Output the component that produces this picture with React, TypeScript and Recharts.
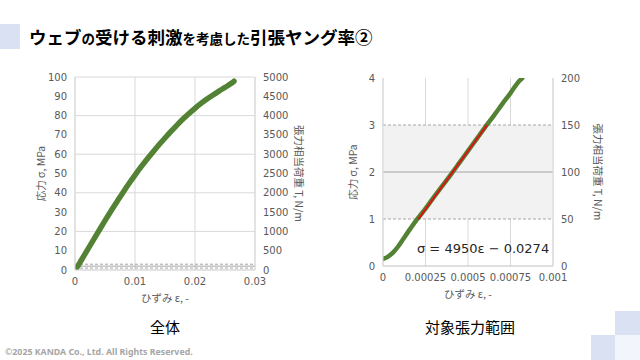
import React from 'react';
import {
  ComposedChart, Line, XAxis, YAxis, CartesianGrid, ReferenceLine, ReferenceArea, Label,
} from 'recharts';

// ---- data ----
const strainAll = [0, 0.0005, 0.001, 0.002, 0.003, 0.004, 0.005, 0.006, 0.007, 0.008, 0.009, 0.010, 0.011, 0.012, 0.013, 0.014, 0.015, 0.016, 0.017, 0.018, 0.019, 0.020, 0.021, 0.022, 0.023, 0.024, 0.025, 0.026, 0.0265];
const stressAll = [0, 2.2, 4.8, 10.0, 15.2, 20.4, 25.6, 30.6, 35.4, 40.2, 44.8, 49.2, 53.4, 57.4, 61.2, 64.9, 68.4, 71.8, 75.1, 78.2, 81.1, 83.8, 86.3, 88.6, 90.7, 92.7, 94.6, 96.6, 97.8];

const strainZoom = [0, 0.00003, 0.00006, 0.00009, 0.00012, 0.00016, 0.0002, 0.00025, 0.0003, 0.00035, 0.0004, 0.00045, 0.0005, 0.00055, 0.0006, 0.00065, 0.0007, 0.00075, 0.0008, 0.00082];
const stressZoom = [0.15, 0.2, 0.29, 0.42, 0.58, 0.79, 0.99, 1.22, 1.47, 1.71, 1.95, 2.2, 2.45, 2.70, 2.95, 3.19, 3.44, 3.68, 3.93, 4.0];

const strainFit = [0.000208, 0.000612];
const stressFit = [1.0, 3.0];

const xTicksAll = [0, 0.01, 0.02, 0.03];
const yTicksAll = [0, 10, 20, 30, 40, 50, 60, 70, 80, 90, 100];
const y2TicksAll = [0, 500, 1000, 1500, 2000, 2500, 3000, 3500, 4000, 4500, 5000];

const xTicksZoom = [0, 0.00025, 0.0005, 0.00075, 0.001];
const yTicksZoom = [0, 1, 2, 3, 4];
const y2TicksZoom = [0, 50, 100, 150, 200];

const bandLow = 1;
const bandMid = 2;
const bandHigh = 3;

const equation = 'σ = 4950ε − 0.0274';

const toRows = (xs: number[], ys: number[]) => xs.map((e, i) => ({ e, s: ys[i] }));
const allRows = toRows(strainAll, stressAll);
const zoomRows = toRows(strainZoom, stressZoom);
const fitRows = toRows(strainFit, stressFit);

const GREEN = '#548235';
const RED = '#e01010';
const TICK = { fontSize: 10, fill: '#595959', fontFamily: 'DejaVu Sans' };
const LABEL_FONT = 'Noto Sans CJK JP';
const LABEL_STYLE = { fontSize: 10.5, fill: '#595959', fontFamily: LABEL_FONT };

const fmt = (v: number) => String(v);

export default function App() {
  return (
    <div style={{ position: 'absolute', left: 0, top: 0, width: 640, height: 360, background: '#fff', overflow: 'hidden', fontFamily: LABEL_FONT }}>
      {/* title */}
      <div style={{ position: 'absolute', left: 0, top: 24, width: 20, height: 25, background: '#d9e1f2' }} />
      <div style={{ position: 'absolute', left: 29, top: 25, fontWeight: 700, color: '#000', whiteSpace: 'nowrap', lineHeight: '24px' }}>
        <span style={{ fontSize: 17.5 }}>ウェブ</span>
        <span style={{ fontSize: 13.5 }}>の</span>
        <span style={{ fontSize: 17.5 }}>受ける刺激</span>
        <span style={{ fontSize: 13.5 }}>を考慮した</span>
        <span style={{ fontSize: 17.5 }}>引張ヤング率②</span>
      </div>

      {/* left chart */}
      <div style={{ position: 'absolute', left: 0, top: 60 }}>
        <ComposedChart width={320} height={250} margin={{ top: 17, right: 15, left: 25, bottom: 6 }}>
          <CartesianGrid yAxisId="left" stroke="#d9d9d9" strokeWidth={1} />
          <XAxis dataKey="e" type="number" domain={[0, 0.03]} ticks={xTicksAll} tickFormatter={fmt}
            tick={TICK} tickLine={false} axisLine={{ stroke: '#d9d9d9' }} height={34} allowDataOverflow>
            <Label value="ひずみ ε, -" position="insideBottom" offset={2} style={LABEL_STYLE} />
          </XAxis>
          <YAxis yAxisId="left" type="number" domain={[0, 100]} ticks={yTicksAll} tick={TICK}
            tickLine={false} axisLine={{ stroke: '#d9d9d9' }} width={50} allowDataOverflow>
            <Label value="応力 σ, MPa" angle={-90} position="center" dx={-9} style={LABEL_STYLE} />
          </YAxis>
          <YAxis yAxisId="right" orientation="right" type="number" domain={[0, 5000]} ticks={y2TicksAll} tick={TICK}
            tickLine={false} axisLine={{ stroke: '#d9d9d9' }} width={50} allowDataOverflow>
            <Label value="張力相当荷重 T, N/m" angle={90} position="center" dx={19} style={LABEL_STYLE} />
          </YAxis>
          <ReferenceLine yAxisId="left" y={bandLow} stroke="#a6a6a6" strokeDasharray="3 2" />
          <ReferenceLine yAxisId="left" y={bandMid} stroke="#a6a6a6" />
          <ReferenceLine yAxisId="left" y={bandHigh} stroke="#a6a6a6" strokeDasharray="3 2" />
          <Line yAxisId="left" data={allRows} dataKey="s" type="monotone" stroke={GREEN} strokeWidth={5.5} dot={false}
            strokeLinecap="round" strokeLinejoin="round" isAnimationActive={false} />
        </ComposedChart>
      </div>

      {/* right chart */}
      <div style={{ position: 'absolute', left: 320, top: 60 }}>
        <ComposedChart width={320} height={250} margin={{ top: 18, right: 27, left: 13, bottom: 10 }}>
          <ReferenceArea yAxisId="left" y1={bandLow} y2={bandHigh} fill="#f2f2f2" fillOpacity={1} stroke="none" />
          <CartesianGrid yAxisId="left" stroke="#d9d9d9" horizontal={false} />
          <XAxis dataKey="e" type="number" domain={[0, 0.001]} ticks={xTicksZoom} tickFormatter={fmt}
            tick={TICK} tickLine={false} axisLine={{ stroke: '#bfbfbf' }} height={34} interval={0} allowDataOverflow>
            <Label value="ひずみ ε, -" position="insideBottom" offset={2} style={LABEL_STYLE} />
          </XAxis>
          <YAxis yAxisId="left" type="number" domain={[0, 4]} ticks={yTicksZoom} tick={TICK}
            tickLine={false} axisLine={{ stroke: '#d9d9d9' }} width={50} allowDataOverflow>
            <Label value="応力 σ, MPa" angle={-90} position="center" dx={-5} style={LABEL_STYLE} />
          </YAxis>
          <YAxis yAxisId="right" orientation="right" type="number" domain={[0, 200]} ticks={y2TicksZoom} tick={TICK}
            tickLine={false} axisLine={{ stroke: '#d9d9d9' }} width={60} allowDataOverflow>
            <Label value="張力相当荷重 T, N/m" angle={90} position="center" dx={15} style={LABEL_STYLE} />
          </YAxis>
          <ReferenceLine yAxisId="left" y={bandLow} stroke="#a6a6a6" strokeDasharray="3 2" />
          <ReferenceLine yAxisId="left" y={bandMid} stroke="#a6a6a6" />
          <ReferenceLine yAxisId="left" y={bandHigh} stroke="#a6a6a6" strokeDasharray="3 2" />
          <Line yAxisId="left" data={zoomRows} dataKey="s" type="monotone" stroke={GREEN} strokeWidth={4.5} dot={false}
            strokeLinecap="round" strokeLinejoin="round" isAnimationActive={false} />
          <Line yAxisId="left" data={fitRows} dataKey="s" stroke={RED} strokeWidth={2} dot={false}
            isAnimationActive={false} />
        </ComposedChart>
      </div>

      {/* equation */}
      <div style={{ position: 'absolute', left: 417, top: 240, fontSize: 13, fontFamily: 'DejaVu Sans', color: '#262626', whiteSpace: 'nowrap', lineHeight: '18px' }}>
        {equation}
      </div>

      {/* subtitles */}
      <div style={{ position: 'absolute', left: 115, width: 100, top: 317, textAlign: 'center', fontSize: 15, color: '#000', lineHeight: '20px' }}>全体</div>
      <div style={{ position: 'absolute', left: 400, width: 140, top: 317, textAlign: 'center', fontSize: 15, color: '#000', lineHeight: '20px' }}>対象張力範囲</div>

      {/* footer */}
      <div style={{ position: 'absolute', left: 5, top: 346, fontSize: 8.8, fontWeight: 700, color: '#a6a6a6', whiteSpace: 'nowrap', fontFamily: 'Noto Sans', lineHeight: '12px' }}>
        ©2025 KANDA Co., Ltd. All Rights Reserved.
      </div>

      {/* corner decoration */}
      <div style={{ position: 'absolute', left: 615, top: 311, width: 25, height: 24, background: '#d9e1f2' }} />
      <div style={{ position: 'absolute', left: 591, top: 335, width: 24, height: 25, background: '#d9e1f2' }} />
      <div style={{ position: 'absolute', left: 615, top: 335, width: 25, height: 25, background: '#f2f5fb' }} />
    </div>
  );
}
